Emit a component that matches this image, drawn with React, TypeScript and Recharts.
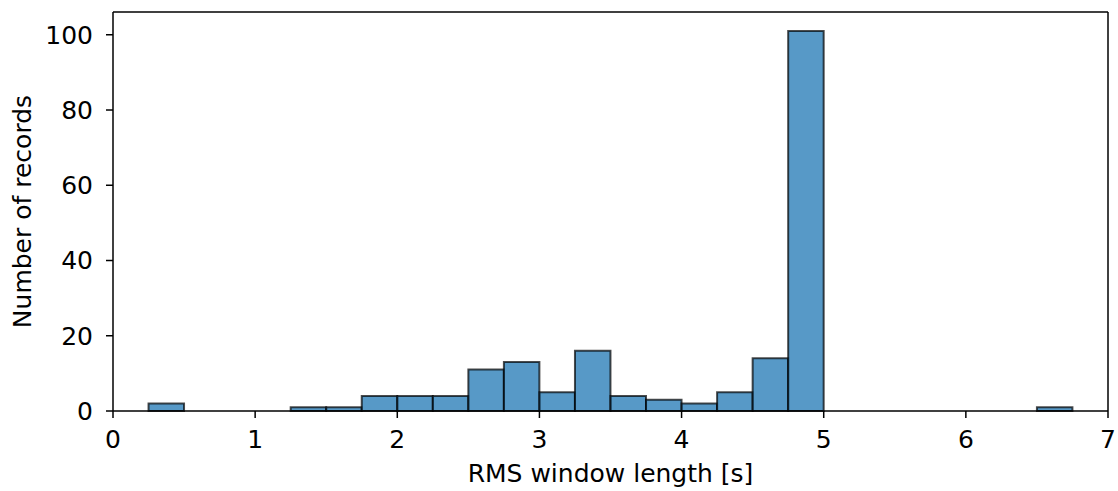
import { ComposedChart, Bar, XAxis, YAxis } from 'recharts'

// histogram bins of width 0.25 s (start of each bin) and counts
const binStarts = [0.25, 0.5, 0.75, 1.0, 1.25, 1.5, 1.75, 2.0, 2.25, 2.5, 2.75, 3.0, 3.25, 3.5, 3.75, 4.0, 4.25, 4.5, 4.75, 5.0, 5.25, 5.5, 5.75, 6.0, 6.25, 6.5]
const counts = [2, 0, 0, 0, 1, 1, 4, 4, 4, 11, 13, 5, 16, 4, 3, 2, 5, 14, 101, 0, 0, 0, 0, 0, 0, 1]
const binWidth = 0.25
const xTicks = [0, 1, 2, 3, 4, 5, 6, 7]
const yTicks = [0, 20, 40, 60, 80, 100]

const data = binStarts.map((s, i) => ({ mid: s + binWidth / 2, n: counts[i] }))

const font = { fontFamily: 'DejaVu Sans', fontSize: 25, fill: '#000' }

export default function App() {
  return (
    <div style={{ position: 'absolute', left: 0, top: 0 }}>
      <ComposedChart width={1118} height={491} data={data}
        margin={{ top: 0, right: 0, left: 0, bottom: 0 }}>
        <XAxis dataKey="mid" type="number" domain={[0, 7]} ticks={xTicks} height={80}
          tick={font} tickSize={7} tickMargin={12} stroke="#000" strokeWidth={1.5}
          tickLine={{ stroke: '#000', strokeWidth: 1.5 }}
          label={{ value: 'RMS window length [s]', position: 'center', dy: 22, ...font }} />
        <XAxis xAxisId="top" orientation="top" type="number" domain={[0, 7]} height={12}
          tick={false} tickLine={false} stroke="#000" strokeWidth={1.5} />
        <YAxis type="number" domain={[0, 106.05]} ticks={yTicks} width={113}
          tick={font} tickSize={7} tickMargin={13} stroke="#000" strokeWidth={1.5}
          tickLine={{ stroke: '#000', strokeWidth: 1.5 }}
          label={{ value: 'Number of records', angle: -90, position: 'center', dx: -34, ...font }} />
        <YAxis yAxisId="right" orientation="right" type="number" domain={[0, 106.05]} width={10}
          tick={false} tickLine={false} stroke="#000" strokeWidth={1.5} />
        <Bar dataKey="n" barSize={35.5} fill="#1f77b4" fillOpacity={0.75}
          stroke="#000" strokeOpacity={0.7} strokeWidth={2} isAnimationActive={false} />
      </ComposedChart>
    </div>
  )
}
